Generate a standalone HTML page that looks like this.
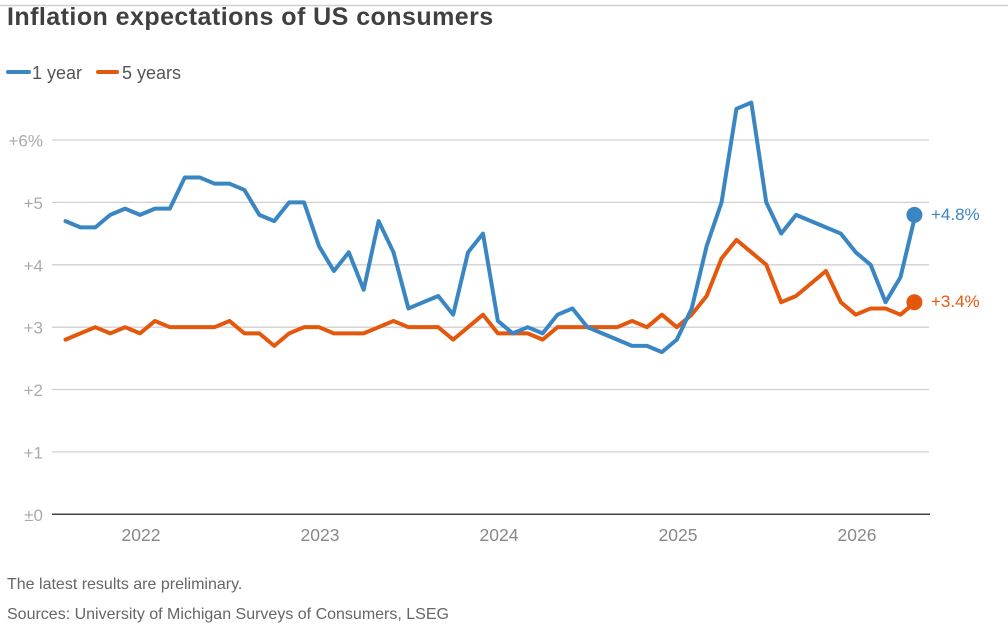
<!DOCTYPE html>
<html>
<head>
<meta charset="utf-8">
<style>
html,body{margin:0;padding:0;background:#fff;}
svg{display:block;}
text{font-family:"Liberation Sans",sans-serif;}
</style>
</head>
<body>
<svg width="1008" height="630" viewBox="0 0 1008 630" xmlns="http://www.w3.org/2000/svg">
  <rect width="1008" height="630" fill="#fff"/>
  <line x1="0" y1="5.5" x2="1008" y2="5.5" stroke="#cfcfcf" stroke-width="1.5"/>

  <text x="7" y="25" font-size="25" font-weight="bold" fill="#404040" letter-spacing="0.45">Inflation expectations of US consumers</text>

  <!-- legend -->
  <line x1="8" y1="72" x2="29" y2="72" stroke="#3a86c3" stroke-width="4" stroke-linecap="round"/>
  <text x="32" y="79" font-size="18" fill="#555">1 year</text>
  <line x1="98" y1="72" x2="117" y2="72" stroke="#e4580e" stroke-width="4" stroke-linecap="round"/>
  <text x="122" y="79" font-size="18" fill="#555">5 years</text>

  <!-- gridlines -->
  <g stroke="#d0d0d0" stroke-width="1.3">
    <line x1="52" y1="140" x2="929" y2="140"/>
    <line x1="52" y1="202.4" x2="929" y2="202.4"/>
    <line x1="52" y1="264.8" x2="929" y2="264.8"/>
    <line x1="52" y1="327.2" x2="929" y2="327.2"/>
    <line x1="52" y1="389.5" x2="929" y2="389.5"/>
    <line x1="52" y1="451.9" x2="929" y2="451.9"/>
  </g>
  <line x1="52" y1="514.3" x2="930" y2="514.3" stroke="#444" stroke-width="1.5"/>

  <!-- y labels -->
  <g font-size="17" fill="#aaa" text-anchor="end">
    <text x="43" y="146.5">+6%</text>
    <text x="43" y="208.9">+5</text>
    <text x="43" y="271.3">+4</text>
    <text x="43" y="333.7">+3</text>
    <text x="43" y="396">+2</text>
    <text x="43" y="458.4">+1</text>
    <text x="43" y="520.8">±0</text>
  </g>

  <!-- x labels -->
  <g font-size="17.5" fill="#888" text-anchor="middle">
    <text x="141" y="541">2022</text>
    <text x="320" y="541">2023</text>
    <text x="499" y="541">2024</text>
    <text x="678" y="541">2025</text>
    <text x="857" y="541">2026</text>
  </g>

  <!-- series -->
  <g transform="translate(65.5,514.3) scale(14.91,-62.38)">
    <polyline fill="none" stroke="#e4580e" stroke-width="4" stroke-linejoin="round" stroke-linecap="round" vector-effect="non-scaling-stroke"
      points="0,2.8 1,2.9 2,3.0 3,2.9 4,3.0 5,2.9 6,3.1 7,3.0 8,3.0 9,3.0 10,3.0 11,3.1 12,2.9 13,2.9 14,2.7 15,2.9 16,3.0 17,3.0 18,2.9 19,2.9 20,2.9 21,3.0 22,3.1 23,3.0 24,3.0 25,3.0 26,2.8 27,3.0 28,3.2 29,2.9 30,2.9 31,2.9 32,2.8 33,3.0 34,3.0 35,3.0 36,3.0 37,3.0 38,3.1 39,3.0 40,3.2 41,3.0 42,3.2 43,3.5 44,4.1 45,4.4 46,4.2 47,4.0 48,3.4 49,3.5 50,3.7 51,3.9 52,3.4 53,3.2 54,3.3 55,3.3 56,3.2 57,3.4"/>
    <polyline fill="none" stroke="#3a86c3" stroke-width="4" stroke-linejoin="round" stroke-linecap="round" vector-effect="non-scaling-stroke"
      points="0,4.7 1,4.6 2,4.6 3,4.8 4,4.9 5,4.8 6,4.9 7,4.9 8,5.4 9,5.4 10,5.3 11,5.3 12,5.2 13,4.8 14,4.7 15,5.0 16,5.0 17,4.3 18,3.9 19,4.2 20,3.6 21,4.7 22,4.2 23,3.3 24,3.4 25,3.5 26,3.2 27,4.2 28,4.5 29,3.1 30,2.9 31,3.0 32,2.9 33,3.2 34,3.3 35,3.0 36,2.9 37,2.8 38,2.7 39,2.7 40,2.6 41,2.8 42,3.3 43,4.3 44,5.0 45,6.5 46,6.6 47,5.0 48,4.5 49,4.8 50,4.7 51,4.6 52,4.5 53,4.2 54,4.0 55,3.4 56,3.8 57,4.8"/>
  </g>

  <circle cx="914.4" cy="302.2" r="8" fill="#e4580e"/>
  <circle cx="914.4" cy="214.9" r="8" fill="#3a86c3"/>

  <text x="931" y="220" font-size="17" fill="#3a86c3">+4.8%</text>
  <text x="931" y="307" font-size="17" fill="#e4580e">+3.4%</text>

  <!-- footer -->
  <text x="7" y="589" font-size="16" fill="#666">The latest results are preliminary.</text>
  <text x="7" y="619" font-size="16" fill="#666">Sources: University of Michigan Surveys of Consumers, LSEG</text>
</svg>
</body>
</html>
